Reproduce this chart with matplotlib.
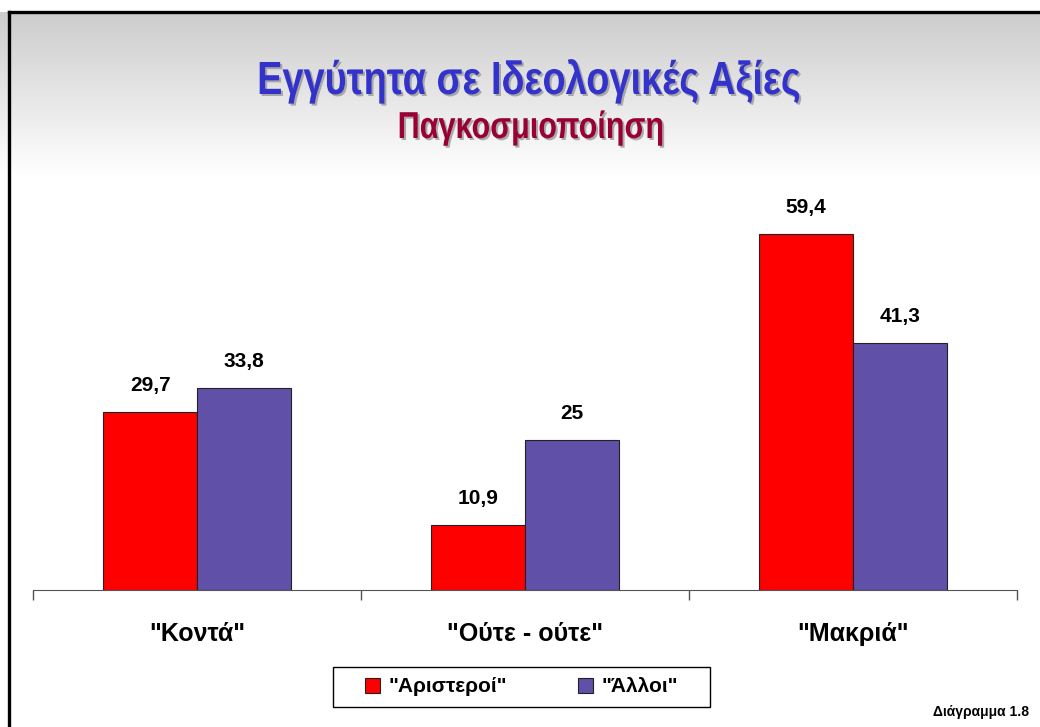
import matplotlib
matplotlib.use('Agg')
import matplotlib.pyplot as plt
import matplotlib.patheffects as pe
from matplotlib.patches import Rectangle
from matplotlib.transforms import Affine2D
from matplotlib.colors import to_rgb
import numpy as np

categories = ['"Κοντά"', '"Ούτε - ούτε"', '"Μακριά"']
series_names = ['"Αριστεροί"', '"Άλλοι"']
left_values = [29.7, 10.9, 59.4]
other_values = [33.8, 25, 41.3]
value_labels_left = ['29,7', '10,9', '59,4']
value_labels_other = ['33,8', '25', '41,3']

title = 'Εγγύτητα σε Ιδεολογικές Αξίες'
subtitle = 'Παγκοσμιοποίηση'
footer = 'Διάγραμμα 1.8'

red = '#ff0000'
purple = '#6050a8'
plt.rcParams['font.family'] = ['Liberation Sans', 'DejaVu Sans']


class Squeeze(pe.AbstractPathEffect):
    """Narrow the glyphs horizontally around cx (pixels) and add a drop shadow."""

    def __init__(self, sx, cx, shadow='#999999', offset=(2, -2)):
        super().__init__()
        self.sx, self.cx, self.shadow, self.off = sx, cx, shadow, offset

    def draw_path(self, renderer, gc, tpath, affine, rgbFace=None):
        sq = Affine2D().translate(-self.cx, 0).scale(self.sx, 1).translate(self.cx, 0)
        if self.shadow:
            gc0 = renderer.new_gc()
            gc0.copy_properties(gc)
            gc0.set_foreground(self.shadow)
            gc0.set_alpha(0.8)
            renderer.draw_path(gc0, tpath, affine + sq + Affine2D().translate(*self.off),
                               to_rgb(self.shadow))
            gc0.restore()
        renderer.draw_path(gc, tpath, affine + sq, rgbFace)


W, H = 1040, 727
fig = plt.figure(figsize=(W / 100, H / 100), dpi=100)

# background gradient + frame
bg = fig.add_axes([0, 0, 1, 1], zorder=-10)
grad = np.ones((H, 1))
top, fade_end = 12, 175
for y in range(top, fade_end):
    grad[y, 0] = 0.80 + 0.20 * (y - top) / (fade_end - top)
bg.imshow(np.dstack([grad, grad, grad]), aspect='auto', extent=[0, W, H, 0])
bg.plot([9, 9], [H, 12], color='black', lw=2.4)
bg.plot([9, W], [12, 12], color='black', lw=2.4)
bg.add_patch(Rectangle((333, 667), 377, 40, facecolor='white', edgecolor='black', lw=1.0, zorder=5))
bg.set_xlim(0, W)
bg.set_ylim(H, 0)
bg.axis('off')

ax = fig.add_axes([33 / W, 1 - 590 / H, (1017 - 33) / W, (590 - 171) / H])
ax.patch.set_alpha(0)
x = np.arange(len(categories))
w = 0.286
b1 = ax.bar(x - w / 2, left_values, w, color=red, edgecolor='#222222', lw=0.8, label=series_names[0])
b2 = ax.bar(x + w / 2, other_values, w, color=purple, edgecolor='#222222', lw=0.8, label=series_names[1])

for bars, labs in ((b1, value_labels_left), (b2, value_labels_other)):
    for rect, lab in zip(bars, labs):
        ax.annotate(lab, (rect.get_x() + rect.get_width() / 2, rect.get_height()),
                    xytext=(0, 17), textcoords='offset pixels', ha='center', va='bottom',
                    fontsize=15, fontweight='bold')

ax.set_xlim(-0.5, 2.5)
ax.set_ylim(0, 70)
ax.set_xticks([-0.5, 0.5, 1.5, 2.5])
ax.set_xticklabels([])
ax.tick_params(axis='x', which='major', length=7.5, color='#555555', width=1)
ax.set_xticks(x, minor=True)
ax.set_xticklabels(categories, minor=True, fontsize=18, fontweight='bold')
ax.tick_params(axis='x', which='minor', length=0, pad=23)
ax.set_yticks([])
for s in ('top', 'right', 'left'):
    ax.spines[s].set_visible(False)
ax.spines['bottom'].set_color('#555555')

t1 = fig.text(529 / W, 1 - 94 / H, title, ha='center', va='baseline',
              fontsize=33.5, fontweight='bold', color='#3333cc')
t1.set_path_effects([Squeeze(0.815, 529)])
t2 = fig.text(531 / W, 1 - 138 / H, subtitle, ha='center', va='baseline',
              fontsize=27, fontweight='bold', color='#990033')
t2.set_path_effects([Squeeze(0.815, 531)])

leg = fig.legend(handles=[b1, b2], labels=series_names, loc='center',
                 bbox_to_anchor=(521.5 / W, 1 - 687 / H), ncol=2, frameon=False,
                 handlelength=0.72, handleheight=0.72, columnspacing=3.4,
                 handletextpad=0.43, prop={'weight': 'bold', 'size': 15})

fig.text(1029 / W, 1 - 712 / H, footer, ha='right', va='center', fontsize=10, fontweight='bold')

fig.savefig('out.png', dpi=100)
